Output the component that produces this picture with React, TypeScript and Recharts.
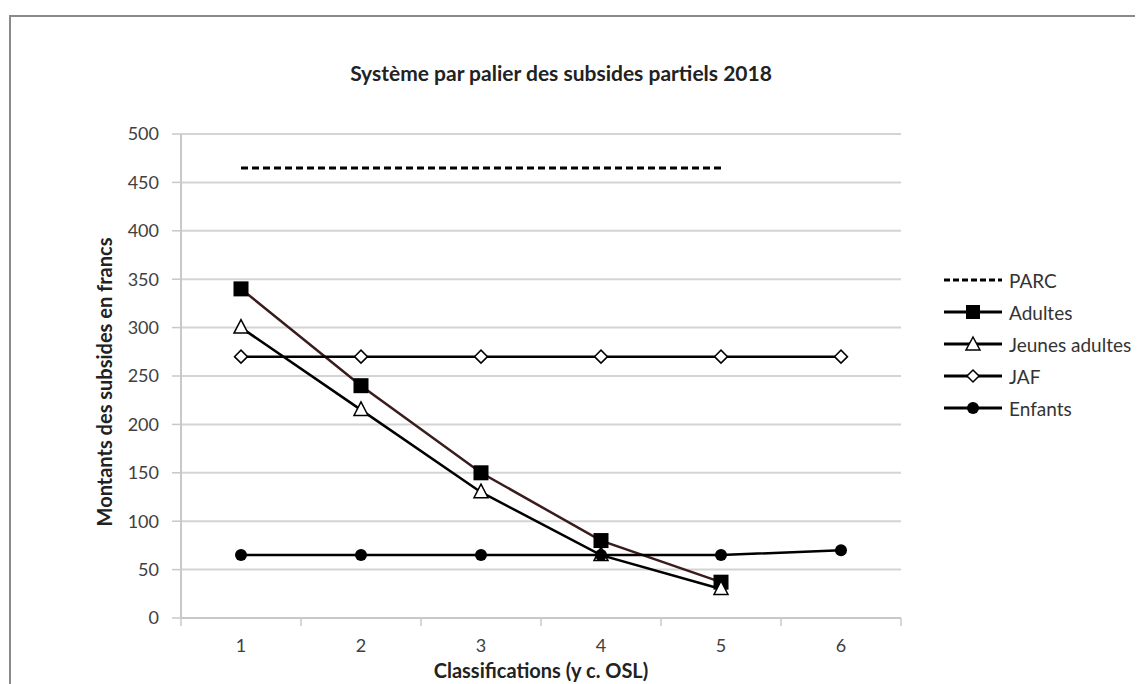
import React from "react";
import { CartesianGrid, Line, LineChart, XAxis, YAxis } from "recharts";

// Classification levels 1..6
const classes = [1, 2, 3, 4, 5, 6];
const parc = [465, 465, 465, 465, 465, null];
const adultes = [340, 240, 150, 80, 37, null];
const jeunesAdultes = [300, 215, 130, 65, 30, null];
const jaf = [270, 270, 270, 270, 270, 270];
const enfants = [65, 65, 65, 65, 65, 70];
const yTicks = [0, 50, 100, 150, 200, 250, 300, 350, 400, 450, 500];
const xTicks = [0.5, 1, 1.5, 2, 2.5, 3, 3.5, 4, 4.5, 5, 5.5, 6, 6.5];

const data = classes.map((c, i) => ({
  c,
  parc: parc[i],
  adultes: adultes[i],
  jeunes: jeunesAdultes[i],
  jaf: jaf[i],
  enfants: enfants[i],
}));

const FONT = "Lato, 'Open Sans', sans-serif";

const Square = (p: any) =>
  p.cx == null || p.value == null ? null : (
    <rect key={p.key} x={p.cx - 7.5} y={p.cy - 7.5} width={15} height={15} fill="#000" />
  );
const Triangle = (p: any) =>
  p.cx == null || p.value == null ? null : (
    <polygon
      key={p.key}
      points={`${p.cx},${p.cy - 8} ${p.cx - 7},${p.cy + 5.5} ${p.cx + 7},${p.cy + 5.5}`}
      fill="#fff"
      stroke="#000"
      strokeWidth={1.5}
    />
  );
const Diamond = (p: any) =>
  p.cx == null || p.value == null ? null : (
    <polygon
      key={p.key}
      points={`${p.cx},${p.cy - 6.5} ${p.cx + 6.5},${p.cy} ${p.cx},${p.cy + 6.5} ${p.cx - 6.5},${p.cy}`}
      fill="#fff"
      stroke="#000"
      strokeWidth={1.5}
    />
  );
const Dot = (p: any) =>
  p.cx == null || p.value == null ? null : <circle key={p.key} cx={p.cx} cy={p.cy} r={6} fill="#000" />;

const legendItems = [
  { name: "PARC", marker: "none", dash: "6 3" },
  { name: "Adultes", marker: "square" },
  { name: "Jeunes adultes", marker: "triangle" },
  { name: "JAF", marker: "diamond" },
  { name: "Enfants", marker: "dot" },
];

function LegendIcon({ marker, dash }: { marker: string; dash?: string }) {
  return (
    <svg width={60} height={20} style={{ display: "block" }}>
      <line x1={1} y1={10} x2={59} y2={10} stroke="#000" strokeWidth={3} strokeDasharray={dash} />
      {marker === "square" && <rect x={23} y={3} width={14} height={14} fill="#000" />}
      {marker === "triangle" && (
        <polygon points="30,3 23,16 37,16" fill="#fff" stroke="#000" strokeWidth={1.5} />
      )}
      {marker === "diamond" && (
        <polygon points="30,4 36,10 30,16 24,10" fill="#fff" stroke="#000" strokeWidth={1.5} />
      )}
      {marker === "dot" && <circle cx={30} cy={10} r={6} fill="#000" />}
    </svg>
  );
}

function LegendBox() {
  return (
    <div
      style={{
        position: "absolute",
        left: 935,
        top: 256,
        fontFamily: FONT,
        fontSize: 19,
        color: "#333",
        whiteSpace: "nowrap",
      }}
    >
      {legendItems.map((it) => (
        <div key={it.name} style={{ display: "flex", alignItems: "center", height: 32 }}>
          <LegendIcon marker={it.marker} dash={it.dash} />
          <span style={{ marginLeft: 6 }}>{it.name}</span>
        </div>
      ))}
    </div>
  );
}

function XTick(props: any) {
  const { x, y, payload } = props;
  const v = payload.value;
  if (Number.isInteger(v)) {
    return (
      <text x={x} y={y + 27} textAnchor="middle" dominantBaseline="central" fill="#404040" fontSize={18} fontFamily={FONT}>
        {v}
      </text>
    );
  }
  return <line x1={x} y1={y} x2={x} y2={y + 8} stroke="#c8c8c8" strokeWidth={1.5} />;
}

export default function App() {
  return (
    <div style={{ position: "relative", width: 1135, height: 676, overflow: "hidden", background: "#fff" }}>
      <div
        style={{
          position: "absolute",
          left: 1,
          top: 7,
          width: 1140,
          height: 700,
          borderTop: "2px solid #8a8a8a",
          borderLeft: "2px solid #8a8a8a",
        }}
      />
      <div
        style={{
          position: "absolute",
          left: 0,
          width: 1106,
          top: 52,
          textAlign: "center",
          fontFamily: FONT,
          fontWeight: 700,
          fontSize: 21,
          color: "#222",
        }}
      >
        Système par palier des subsides partiels 2018
      </div>
      <LineChart
        width={1135}
        height={676}
        data={data}
        margin={{ top: 126, right: 242, bottom: 0, left: 70 }}
        style={{ position: "absolute", left: 0, top: 0 }}
      >
        <CartesianGrid vertical={false} stroke="#d4d4d4" strokeWidth={2} />
        <XAxis
          dataKey="c"
          type="number"
          domain={[0.5, 6.5]}
          ticks={xTicks}
          interval={0}
          height={66}
          tickLine={false}
          tickSize={0}
          tickMargin={0}
          tick={<XTick />}
          axisLine={{ stroke: "#c8c8c8", strokeWidth: 2 }}
          label={{
            content: ({ viewBox }: any) => (
              <text
                x={viewBox.x + viewBox.width / 2}
                y={viewBox.y + 52}
                textAnchor="middle"
                dominantBaseline="central"
                fontFamily={FONT}
                fontWeight={700}
                fontSize={20}
                fill="#222"
              >
                Classifications (y c. OSL)
              </text>
            ),
          }}
        />
        <YAxis
          domain={[0, 500]}
          ticks={yTicks}
          interval={0}
          width={103}
          tickSize={9}
          tickMargin={13}
          tickLine={{ stroke: "#c8c8c8", strokeWidth: 1.5 }}
          axisLine={{ stroke: "#c8c8c8", strokeWidth: 2 }}
          tick={{ fill: "#404040", fontSize: 18, fontFamily: FONT }}
          label={{
            content: ({ viewBox }: any) => {
              const cx = viewBox.x + 26;
              const cy = viewBox.y + viewBox.height / 2 + 6;
              return (
                <text
                  x={cx}
                  y={cy}
                  transform={`rotate(-90 ${cx} ${cy})`}
                  textAnchor="middle"
                  dominantBaseline="central"
                  fontFamily={FONT}
                  fontWeight={700}
                  fontSize={20}
                  fill="#222"
                >
                  Montants des subsides en francs
                </text>
              );
            },
          }}
        />
        <Line dataKey="parc" stroke="#000" strokeWidth={3} strokeDasharray="7 4" dot={false} isAnimationActive={false} />
        <Line dataKey="adultes" stroke="#3a1c1c" strokeWidth={2.5} dot={Square} activeDot={false} isAnimationActive={false} />
        <Line dataKey="jeunes" stroke="#000" strokeWidth={2.5} dot={Triangle} activeDot={false} isAnimationActive={false} />
        <Line dataKey="jaf" stroke="#000" strokeWidth={2.5} dot={Diamond} activeDot={false} isAnimationActive={false} />
        <Line dataKey="enfants" stroke="#000" strokeWidth={2.5} dot={Dot} activeDot={false} isAnimationActive={false} />
      </LineChart>
      <LegendBox />
    </div>
  );
}
